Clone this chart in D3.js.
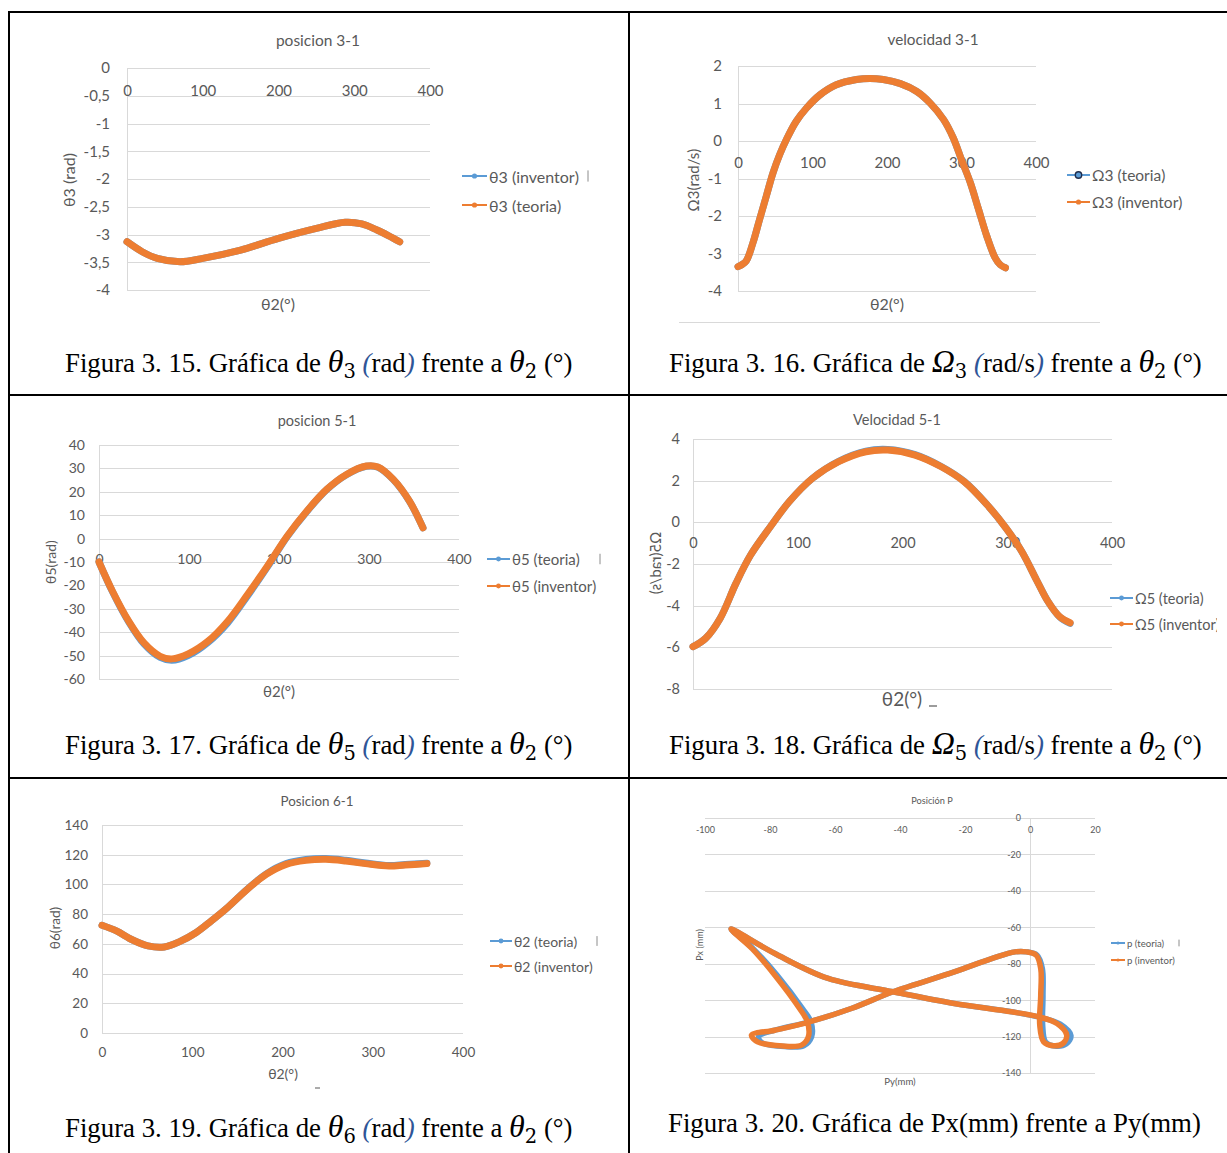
<!DOCTYPE html>
<html>
<head>
<meta charset="utf-8">
<script src="https://cdn.jsdelivr.net/npm/d3@7"></script>
<style>
  body { margin: 0; background: #fff; }
  svg { display: block; }
  text, tspan { white-space: pre; }
</style>
</head>
<body>
<div id="page"></div>
<script>
// values
const degTicks = [0, 100, 200, 300, 400];

// Figura 3.15 - theta3 (rad)
const deg315 = [0, 20, 40, 70, 100, 150, 200, 250, 288, 310, 330, 345, 360];
const th3Teoria = [-3.13, -3.31, -3.43, -3.49, -3.43, -3.28, -3.07, -2.89, -2.78, -2.81, -2.92, -3.02, -3.13];
const th3Inventor = [-3.13, -3.31, -3.43, -3.49, -3.43, -3.28, -3.07, -2.89, -2.78, -2.81, -2.92, -3.02, -3.13];
const ticks315 = [0, -0.5, -1, -1.5, -2, -2.5, -3, -3.5, -4];

// Figura 3.16 - omega3 (rad/s)
const deg316 = [0, 5, 11, 20, 29, 38, 47, 56, 65, 78, 92, 110, 132, 159, 177, 195, 218, 240, 258, 276, 289, 300, 312, 323, 334, 345, 352, 359];
const om3Teoria = [-3.35, -3.3, -3.2, -2.72, -2.09, -1.47, -0.85, -0.36, 0.04, 0.52, 0.88, 1.23, 1.5, 1.64, 1.67, 1.64, 1.53, 1.32, 1.01, 0.57, 0.08, -0.5, -1.12, -1.83, -2.54, -3.11, -3.3, -3.38];
const om3Inventor = [-3.35, -3.3, -3.2, -2.72, -2.09, -1.47, -0.85, -0.36, 0.04, 0.52, 0.88, 1.23, 1.5, 1.64, 1.67, 1.64, 1.53, 1.32, 1.01, 0.57, 0.08, -0.5, -1.12, -1.83, -2.54, -3.11, -3.3, -3.38];
const ticks316 = [2, 1, 0, -1, -2, -3, -4];

// Figura 3.17 - theta5
const deg317 = [0, 15, 33, 50, 68, 81, 99, 121, 143, 165, 187, 209, 231, 253, 275, 297, 310, 327, 345, 360];
const th5Teoria = [-10, -22.7, -35.6, -45.0, -50.8, -52.0, -50.0, -44.4, -36.0, -24.5, -12.2, 0.8, 11.6, 20.9, 27.3, 30.9, 30.5, 25.2, 15.9, 4.6];
const th5Inventor = [-10, -22.5, -35.3, -44.6, -50.3, -51.4, -49.3, -43.9, -35.3, -23.9, -11.8, 1.0, 11.8, 21.0, 27.4, 31.0, 30.6, 25.3, 16.0, 4.6];
const ticks317 = [40, 30, 20, 10, 0, -10, -20, -30, -40, -50, -60];

// Figura 3.18 - omega5 (rad/s)
const deg318 = [0, 12, 26, 41, 55, 74, 92, 114, 139, 165, 186, 212, 237, 259, 281, 299, 314, 328, 339, 350, 360];
const om5Teoria = [-5.97, -5.57, -4.6, -2.93, -1.57, -0.2, 1.0, 2.11, 2.93, 3.42, 3.5, 3.25, 2.68, 1.96, 0.83, -0.29, -1.41, -2.77, -3.81, -4.54, -4.85];
const om5Inventor = [-5.97, -5.57, -4.6, -2.93, -1.57, -0.2, 1.0, 2.11, 2.91, 3.39, 3.47, 3.23, 2.67, 1.95, 0.83, -0.29, -1.41, -2.77, -3.81, -4.53, -4.82];
const ticks318 = [4, 2, 0, -2, -4, -6, -8];

// Figura 3.19 - theta6
const deg319 = [0, 16, 34, 51, 69, 86, 104, 121, 139, 161, 182, 204, 226, 248, 270, 292, 318, 336, 360];
const th6Teoria = [72.5, 68.7, 62.6, 58.6, 57.9, 61.5, 67.5, 75.4, 84.4, 96.8, 107.1, 114.0, 116.8, 117.5, 116.3, 114.4, 112.7, 113.4, 114.3];
const th6Inventor = [72.5, 68.7, 62.6, 58.6, 57.9, 61.5, 67.5, 75.4, 84.4, 96.7, 106.8, 113.5, 116.2, 116.9, 115.8, 114.0, 112.4, 113.1, 114.0];
const ticks319 = [140, 120, 100, 80, 60, 40, 20, 0];

// Figura 3.20 - trajectory of P (closed loop, Py on x, Px on y)
const pyInventor = [-92.0, -78.5, -62.1, -42.1, -23.3, -5.7, 2.5, 8.3, 11.3, 10.1, 7.2, 4.2, 3.0, 3.3, 3.3, 1.9, -1.1, -4.6, -11.6, -23.3, -42.1, -55.0, -67.9, -78.5, -85.7, -83.8, -76.1, -70.3, -68.2, -68.5, -70.9, -78.5, -85.5];
const pxInventor = [-61.0, -74.4, -88.1, -95.4, -101.8, -106.4, -109.1, -112.8, -119.2, -123.8, -125.0, -122.9, -113.7, -97.3, -82.6, -75.3, -73.5, -73.5, -77.1, -84.5, -95.4, -104.6, -111.9, -116.5, -119.2, -122.9, -125.2, -124.7, -120.1, -111.9, -104.6, -86.3, -71.7];
const pyTeoria = [-92.0, -78.5, -62.1, -42.1, -23.3, -5.7, 2.8, 9.3, 12.6, 11.2, 7.6, 4.8, 3.9, 4.0, 3.8, 2.2, -1.1, -4.6, -11.6, -23.3, -42.1, -55.0, -67.9, -78.5, -83.5, -82.6, -75.5, -69.6, -67.2, -67.4, -70.0, -77.8, -85.2];
const pxTeoria = [-61.0, -74.4, -88.1, -95.4, -101.8, -106.4, -109.3, -113.2, -119.5, -124.0, -125.2, -123.0, -113.7, -97.3, -82.6, -75.3, -73.5, -73.5, -77.1, -84.5, -95.4, -104.6, -111.9, -116.5, -120.0, -123.2, -125.5, -125.0, -120.1, -111.9, -104.6, -86.3, -71.7];
const pyTicks = [-100, -80, -60, -40, -20, 0, 20];
const pxTicks = [0, -20, -40, -60, -80, -100, -120, -140];

const BLUE = "#5b9bd5";
const ORANGE = "#ed7d31";
const GRAY = "#595959";
const GRID = "#d9d9d9";
const CHART_FONT = "Lato, 'Open Sans', sans-serif";
const SERIF = "'Liberation Serif', 'Times New Roman', serif";

const svg = d3.select("#page").append("svg")
    .attr("width", 1227)
    .attr("height", 1153);

svg.append("rect").attr("width", 1227).attr("height", 1153).attr("fill", "#fff");

function commaFmt(d) {
    return String(d).replace(".", ",");
}

function label(g, x, y, txt, size, opts = {}) {
    return g.append("text")
        .attr("transform", `translate(${x},${y})` + (opts.transform || ""))
        .attr("text-anchor", opts.anchor || "middle")
        .attr("dominant-baseline", "central")
        .attr("font-family", CHART_FONT)
        .attr("font-size", size)
        .attr("fill", GRAY)
        .text(txt);
}

function drawChart(c) {
    const x = d3.scaleLinear().domain(c.xDomain).range([c.left, c.right]);
    const y = d3.scaleLinear().domain(c.yDomain).range([c.bottom, c.top]);
    const g = svg.append("g").attr("font-family", CHART_FONT);

    // horizontal gridlines
    g.append("g")
        .attr("transform", `translate(${c.left},0)`)
        .call(d3.axisLeft(y).tickValues(c.yTicks).tickSize(-(c.right - c.left)).tickFormat(""))
        .call(a => a.select(".domain").remove())
        .call(a => a.selectAll("line").attr("stroke", GRID).attr("shape-rendering", "crispEdges"));

    // vertical axis
    const ax = Math.round(x(c.vAxisAt));
    g.append("line")
        .attr("x1", ax).attr("x2", ax)
        .attr("y1", c.top).attr("y2", c.bottom)
        .attr("stroke", GRID)
        .attr("shape-rendering", "crispEdges");

    // y tick labels
    g.append("g")
        .attr("transform", `translate(${c.yLabelX},0)`)
        .call(d3.axisLeft(y).tickValues(c.yTicks).tickSize(0).tickPadding(0).tickFormat(commaFmt))
        .call(a => a.select(".domain").remove())
        .attr("font-family", CHART_FONT)
        .attr("font-size", c.tickSize)
        .attr("color", GRAY);

    // x tick labels
    g.append("g")
        .attr("transform", `translate(0,${c.xLabelY})`)
        .call(d3.axisBottom(x).tickValues(c.xTicks).tickSize(0).tickPadding(0).tickFormat(commaFmt))
        .call(a => a.select(".domain").remove())
        .call(a => a.selectAll("text").attr("y", 0).attr("dy", "0.35em"))
        .attr("font-family", CHART_FONT)
        .attr("font-size", c.tickSize)
        .attr("color", GRAY);

    // series
    const line = d3.line()
        .x(d => x(d[0]))
        .y(d => y(d[1]))
        .curve(c.closed ? d3.curveCatmullRomClosed.alpha(0.5) : d3.curveCatmullRom.alpha(0.5));
    c.series.forEach(s => {
        g.append("path")
            .datum(d3.zip(s.x, s.y))
            .attr("d", line)
            .attr("fill", "none")
            .attr("stroke", s.color)
            .attr("stroke-width", c.lineWidth)
            .attr("stroke-linejoin", "round")
            .attr("stroke-linecap", "round");
    });

    // titles
    label(g, c.title[1], c.title[2], c.title[0], c.titleSize);
    label(g, c.yTitle[1], c.yTitle[2], c.yTitle[0], c.yTitleSize,
        { transform: c.mirrorYTitle ? " scale(1,-1) rotate(-90)" : " rotate(-90)" });
    label(g, c.xTitle[1], c.xTitle[2], c.xTitle[0], c.xTitleSize);

    // legend
    const lg = g.append("g");
    if (c.legendClip) {
        const id = "clip" + Math.round(c.left);
        svg.append("clipPath").attr("id", id)
            .append("rect").attr("x", 0).attr("y", 0).attr("width", c.legendClip).attr("height", 1153);
        lg.attr("clip-path", `url(#${id})`);
    }
    c.legend.names.forEach((name, i) => {
        const ly = c.legend.y[i];
        const col = c.legend.colors[i];
        const x0 = c.legend.x;
        const len = c.legend.len;
        lg.append("line")
            .attr("x1", x0).attr("x2", x0 + len)
            .attr("y1", ly).attr("y2", ly)
            .attr("stroke", col).attr("stroke-width", 2);
        const dot = lg.append("circle")
            .attr("cx", x0 + len / 2).attr("cy", ly)
            .attr("r", c.legend.r)
            .attr("fill", col);
        if (c.legend.darkMarker && i === 0) {
            dot.attr("r", c.legend.r + 0.6).attr("stroke", "#1f2d4d").attr("stroke-width", 1.4);
        }
        label(lg, x0 + len + 2, ly, name, c.legend.size, { anchor: "start" });
    });
    if (c.legend.mark) {
        const m = c.legend.mark;
        g.append("line")
            .attr("x1", m).attr("x2", m)
            .attr("y1", c.legend.y[0] - c.legend.size * 0.35)
            .attr("y2", c.legend.y[0] + c.legend.size * 0.35)
            .attr("stroke", "#8c8c8c").attr("stroke-width", 1);
    }
    return { x, y, g };
}

// Figura 3.15
drawChart({
    left: 127, right: 430, top: 68, bottom: 290,
    xDomain: [0, 400], yDomain: [-4, 0], vAxisAt: 0,
    xTicks: degTicks, yTicks: ticks315,
    xLabelY: 91, yLabelX: 110, tickSize: 15,
    title: ["posicion 3-1", 318, 40], titleSize: 15.5,
    yTitle: ["θ3 (rad)", 68, 180], yTitleSize: 16,
    xTitle: ["θ2(°)", 278, 303], xTitleSize: 16,
    lineWidth: 7,
    series: [
        { x: deg315, y: th3Inventor, color: BLUE },
        { x: deg315, y: th3Teoria, color: ORANGE }
    ],
    legend: { x: 462, len: 25, r: 2.6, y: [176, 205], size: 16,
        names: ["θ3 (inventor)", "θ3 (teoria)"], colors: [BLUE, ORANGE], mark: 588 }
});

// Figura 3.16
drawChart({
    left: 738, right: 1036, top: 66, bottom: 291,
    xDomain: [0, 400], yDomain: [-4, 2], vAxisAt: 0,
    xTicks: degTicks, yTicks: ticks316,
    xLabelY: 163, yLabelX: 722, tickSize: 15,
    title: ["velocidad 3-1", 933, 39], titleSize: 15.3,
    yTitle: ["Ω3(rad/s)", 693, 180], yTitleSize: 15,
    xTitle: ["θ2(°)", 887, 303], xTitleSize: 16,
    lineWidth: 7,
    series: [
        { x: deg316, y: om3Teoria, color: BLUE },
        { x: deg316, y: om3Inventor, color: ORANGE }
    ],
    legend: { x: 1067, len: 23, r: 2.6, y: [175, 202], size: 15.5, darkMarker: true,
        names: ["Ω3 (teoria)", "Ω3 (inventor)"], colors: [BLUE, ORANGE] }
});
svg.append("line")
    .attr("x1", 679).attr("x2", 1100).attr("y1", 322).attr("y2", 322)
    .attr("stroke", GRID).attr("shape-rendering", "crispEdges");

// Figura 3.17
drawChart({
    left: 99, right: 459, top: 445, bottom: 679,
    xDomain: [0, 400], yDomain: [-60, 40], vAxisAt: 0,
    xTicks: degTicks, yTicks: ticks317,
    xLabelY: 559, yLabelX: 85, tickSize: 14,
    title: ["posicion 5-1", 317, 420], titleSize: 14.5,
    yTitle: ["θ5(rad)", 50, 562], yTitleSize: 14,
    xTitle: ["θ2(°)", 279, 691], xTitleSize: 15,
    lineWidth: 7,
    series: [
        { x: deg317, y: th5Teoria, color: BLUE },
        { x: deg317, y: th5Inventor, color: ORANGE }
    ],
    legend: { x: 487, len: 23, r: 2.4, y: [559, 586], size: 15,
        names: ["θ5 (teoria)", "θ5 (inventor)"], colors: [BLUE, ORANGE], mark: 600 }
});

// Figura 3.18
drawChart({
    left: 693, right: 1112, top: 439, bottom: 689,
    xDomain: [0, 400], yDomain: [-8, 4], vAxisAt: 0,
    xTicks: degTicks, yTicks: ticks318,
    xLabelY: 543, yLabelX: 680, tickSize: 14.5,
    title: ["Velocidad 5-1", 897, 419], titleSize: 14.5,
    yTitle: ["Ω5(rad/s)", 655, 563], yTitleSize: 15, mirrorYTitle: true,
    xTitle: ["θ2(°)", 902, 698], xTitleSize: 19,
    lineWidth: 7,
    series: [
        { x: deg318, y: om5Teoria, color: BLUE },
        { x: deg318, y: om5Inventor, color: ORANGE }
    ],
    legend: { x: 1110, len: 23, r: 2.4, y: [598, 624], size: 14.5,
        names: ["Ω5 (teoria)", "Ω5 (inventor)"], colors: [BLUE, ORANGE] },
    legendClip: 1217
});
svg.append("line")
    .attr("x1", 929).attr("x2", 937).attr("y1", 706).attr("y2", 706)
    .attr("stroke", GRAY).attr("stroke-width", 1.2);

// Figura 3.19
drawChart({
    left: 102, right: 463, top: 825, bottom: 1033,
    xDomain: [0, 400], yDomain: [0, 140], vAxisAt: 0,
    xTicks: degTicks, yTicks: ticks319,
    xLabelY: 1052, yLabelX: 88, tickSize: 13.5,
    title: ["Posicion 6-1", 317, 801], titleSize: 13.4,
    yTitle: ["θ6(rad)", 55, 928], yTitleSize: 13.6,
    xTitle: ["θ2(°)", 283, 1073], xTitleSize: 14,
    lineWidth: 7,
    series: [
        { x: deg319, y: th6Teoria, color: BLUE },
        { x: deg319, y: th6Inventor, color: ORANGE }
    ],
    legend: { x: 490, len: 22, r: 2.4, y: [941, 966], size: 14,
        names: ["θ2 (teoria)", "θ2 (inventor)"], colors: [BLUE, ORANGE], mark: 597 }
});
svg.append("line")
    .attr("x1", 315).attr("x2", 320).attr("y1", 1088).attr("y2", 1088)
    .attr("stroke", GRAY).attr("stroke-width", 1);

// Figura 3.20
drawChart({
    left: 705, right: 1095, top: 818, bottom: 1073,
    xDomain: [-100, 20], yDomain: [-140, 0], vAxisAt: 0,
    xTicks: pyTicks, yTicks: pxTicks,
    xLabelY: 830, yLabelX: 1021, tickSize: 9,
    title: ["Posición P", 932, 800], titleSize: 9.2,
    yTitle: ["Px (mm)", 699, 945], yTitleSize: 9,
    xTitle: ["Py(mm)", 900, 1081], xTitleSize: 9.6,
    lineWidth: 5.5,
    closed: true,
    series: [
        { x: pyTeoria, y: pxTeoria, color: BLUE },
        { x: pyInventor, y: pxInventor, color: ORANGE }
    ],
    legend: { x: 1111, len: 14, r: 1.6, y: [943, 960], size: 9.6,
        names: ["p (teoria)", "p (inventor)"], colors: [BLUE, ORANGE], mark: 1179 }
});

// captions (Word table cells)
function caption(x, y, parts) {
    const t = svg.append("text")
        .attr("x", x).attr("y", y)
        .attr("font-family", SERIF)
        .attr("font-size", 26.8)
        .attr("fill", "#000");
    let shift = 0;
    parts.forEach(p => {
        const s = t.append("tspan").text(p[0]);
        const kind = p[1];
        let want = 0;
        if (kind === "math") {
            s.attr("font-style", "italic").attr("font-size", 32);
        } else if (kind === "sub") {
            s.attr("font-family", "'DejaVu Serif', serif").attr("font-size", 19.5);
            want = 6;
        } else if (kind === "paren") {
            s.attr("font-style", "italic").attr("fill", "#2f5597");
        }
        if (want !== shift) {
            s.attr("dy", want - shift);
            shift = want;
        }
    });
}

function angleCaption(x, y, num, sym, idx, unit) {
    caption(x, y, [
        [`Figura 3. ${num}. Gráfica de `],
        [sym, "math"], [idx, "sub"], [" "],
        ["(", "paren"], [unit], [")", "paren"],
        [" frente a "],
        ["θ", "math"], ["2", "sub"], [" (°)"]
    ]);
}

angleCaption(65, 372, "15", "θ", "3", "rad");
angleCaption(669, 372, "16", "Ω", "3", "rad/s");
angleCaption(65, 754, "17", "θ", "5", "rad");
angleCaption(669, 754, "18", "Ω", "5", "rad/s");
angleCaption(65, 1137, "19", "θ", "6", "rad");
caption(668, 1132, [["Figura 3. 20. Gráfica de Px(mm) frente a Py(mm)"]]);

// table rules
const rules = svg.append("g").attr("stroke", "#000").attr("stroke-width", 2);
rules.append("line").attr("x1", 8).attr("x2", 1227).attr("y1", 12).attr("y2", 12);
rules.append("line").attr("x1", 8).attr("x2", 1227).attr("y1", 395).attr("y2", 395);
rules.append("line").attr("x1", 8).attr("x2", 1227).attr("y1", 778).attr("y2", 778);
rules.append("line").attr("x1", 9).attr("x2", 9).attr("y1", 11).attr("y2", 1153);
rules.append("line").attr("x1", 629).attr("x2", 629).attr("y1", 11).attr("y2", 1153);
</script>
</body>
</html>
